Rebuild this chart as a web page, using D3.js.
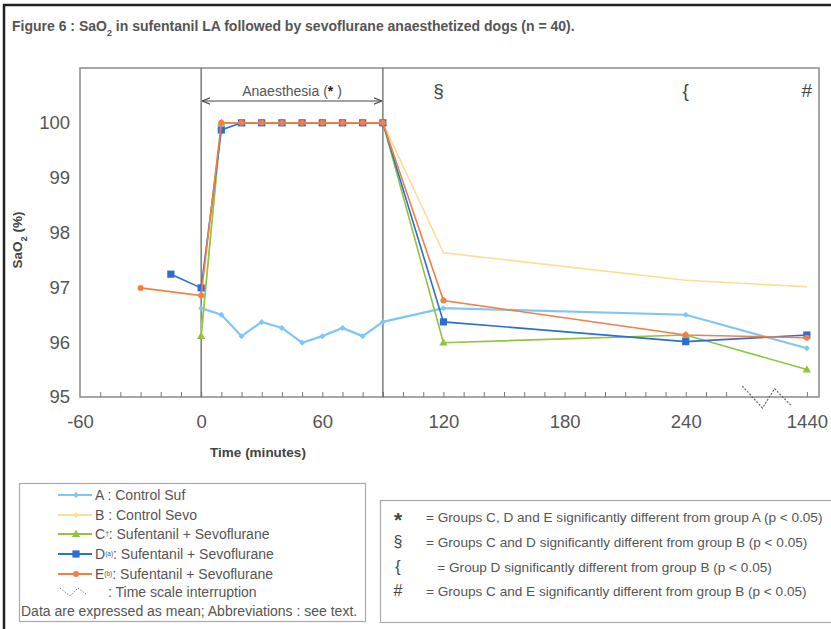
<!DOCTYPE html>
<meta charset="utf-8">
<html lang="en"></html>

<!-- load d3.js -->
<script src="https://d3js.org/d3.v7.min.js"></script>

<style>
    body { margin: 0; background: #fff; }
    text { font-family: "Liberation Sans", Arial, sans-serif; }
</style>

<div id="graph"></div>

<script>

    // ---- data ----
    const timesA = [0, 10, 20, 30, 40, 50, 60, 70, 80, 90, 120, 240, 1440];
    const valuesA = [96.62, 96.50, 96.11, 96.37, 96.26, 95.99, 96.11, 96.26, 96.11, 96.37, 96.62, 96.50, 95.89];

    const timesB = [0, 10, 20, 30, 40, 50, 60, 70, 80, 90, 120, 240, 1440];
    const valuesB = [96.15, 100, 100, 100, 100, 100, 100, 100, 100, 100, 97.63, 97.13, 97.01];

    const timesC = [0, 10, 20, 30, 40, 50, 60, 70, 80, 90, 120, 240, 1440];
    const valuesC = [96.11, 100, 100, 100, 100, 100, 100, 100, 100, 100, 95.99, 96.13, 95.50];

    const timesD = [-15, 0, 10, 20, 30, 40, 50, 60, 70, 80, 90, 120, 240, 1440];
    const valuesD = [97.24, 96.99, 99.87, 100, 100, 100, 100, 100, 100, 100, 100, 96.37, 96.01, 96.13];

    const timesE = [-30, 0, 10, 20, 30, 40, 50, 60, 70, 80, 90, 120, 240, 1440];
    const valuesE = [96.99, 96.85, 100, 100, 100, 100, 100, 100, 100, 100, 100, 96.76, 96.13, 96.08];

    const xTicks = [-60, 0, 60, 120, 180, 240, 1440];
    const yTicks = [95, 96, 97, 98, 99, 100];

    const seriesNames = ["A : Control Suf", "B : Control Sevo", "C", "D", "E"];
    const seriesColours = ["#7fc6f6", "#fddc94", "#8fc43c", "#2e6ed2", "#f47e45"];
    const seriesMarkers = ["diamond", "none", "triangle", "square", "circle"];

    const notes = [
        ["*", "= Groups C, D and E significantly different from group A (p < 0.05)"],
        ["§", "= Groups C and D significantly different from group B (p < 0.05)"],
        ["{", "   = Group D significantly different from group B (p < 0.05)"],
        ["#", "= Groups C and E significantly different from group B (p < 0.05)"]
    ];

    const series = [
        [timesA, valuesA], [timesB, valuesB], [timesC, valuesC], [timesD, valuesD], [timesE, valuesE]
    ].map(function(s, i) {
        return {
            colour: seriesColours[i],
            marker: seriesMarkers[i],
            points: s[0].map(function(t, j) { return {t: t, v: s[1][j]}; })
        };
    });

    // 1440 sits after the time scale interruption
    function pos(t) { return t > 240 ? 300 : t; }

    const W = 831, H = 629;
    const plot = {left: 80, right: 819, top: 68, bottom: 397};

    const svg = d3.select("#graph")
        .append("svg")
            .attr("width", W)
            .attr("height", H);

    // outer frame (top + left black rule)
    svg.append("path")
        .attr("d", "M4,629 V5 H831")
        .attr("fill", "none")
        .attr("stroke", "#222")
        .attr("stroke-width", 2.5);

    // title
    const title = svg.append("text")
        .attr("x", 12)
        .attr("y", 31)
        .attr("fill", "#555")
        .style("font-size", "14px")
        .style("font-weight", "bold");
    title.append("tspan").text("Figure 6 : SaO");
    title.append("tspan").attr("baseline-shift", "sub").style("font-size", "9px").text("2");
    title.append("tspan").text(" in sufentanil LA followed by sevoflurane anaesthetized dogs (n = 40).");

    // scales
    const x = d3.scaleLinear().domain([-60, 306]).range([plot.left, plot.right]);
    const y = d3.scaleLinear().domain([95, 101]).range([plot.bottom, plot.top]);

    // plot box
    svg.append("rect")
        .attr("x", plot.left)
        .attr("y", plot.top)
        .attr("width", plot.right - plot.left)
        .attr("height", plot.bottom - plot.top)
        .attr("fill", "#fff")
        .attr("stroke", "#8a8a8a")
        .attr("stroke-width", 1.5);

    // minor ticks along the bottom, pointing inward
    const minor = d3.range(-50, 301, 10).filter(function(d) { return d < 270 || d > 290; });
    svg.append("g")
        .attr("transform", "translate(0," + plot.bottom + ")")
        .call(d3.axisBottom(x).tickValues(minor).tickSize(-5).tickFormat(""))
        .call(function(g) { g.select(".domain").remove(); })
        .selectAll("line").attr("stroke", "#777");

    // x tick labels
    svg.append("g")
        .attr("transform", "translate(0," + plot.bottom + ")")
        .call(d3.axisBottom(x).tickValues(xTicks.map(pos)).tickSize(0).tickPadding(18)
            .tickFormat(function(d) { return d === 300 ? "1440" : d; }))
        .call(function(g) { g.select(".domain").remove(); })
        .selectAll("text")
            .attr("fill", "#555")
            .style("font-size", "18.5px");

    // y tick labels
    svg.append("g")
        .attr("transform", "translate(" + plot.left + ",0)")
        .call(d3.axisLeft(y).tickValues(yTicks).tickSize(0).tickPadding(10).tickFormat(d3.format("d")))
        .call(function(g) { g.select(".domain").remove(); })
        .selectAll("text")
            .attr("fill", "#555")
            .style("font-size", "18.5px");

    // axis titles
    svg.append("text")
        .attr("x", 258)
        .attr("y", 457)
        .attr("text-anchor", "middle")
        .attr("fill", "#444")
        .style("font-size", "13.5px")
        .style("font-weight", "bold")
        .text("Time (minutes)");

    const yl = svg.append("text")
        .attr("transform", "translate(22,240) rotate(-90)")
        .attr("text-anchor", "middle")
        .attr("fill", "#444")
        .style("font-size", "13.5px")
        .style("font-weight", "bold");
    yl.append("tspan").text("SaO");
    yl.append("tspan").attr("baseline-shift", "sub").style("font-size", "9px").text("2");
    yl.append("tspan").text(" (%)");

    // anaesthesia period markers
    [0, 90].forEach(function(t) {
        svg.append("line")
            .attr("x1", x(t)).attr("x2", x(t))
            .attr("y1", plot.top).attr("y2", plot.bottom)
            .attr("stroke", "#666")
            .attr("stroke-width", 1.3);
    });

    const defs = svg.append("defs");
    defs.append("marker")
        .attr("id", "arr")
        .attr("viewBox", "0 0 10 10")
        .attr("refX", 10).attr("refY", 5)
        .attr("markerWidth", 8).attr("markerHeight", 8)
        .attr("orient", "auto-start-reverse")
        .append("path")
            .attr("d", "M0,1 L10,5 L0,9")
            .attr("fill", "none")
            .attr("stroke", "#444")
            .attr("stroke-width", 1.5);

    svg.append("line")
        .attr("x1", x(0) + 1).attr("x2", x(90) - 1)
        .attr("y1", 101).attr("y2", 101)
        .attr("stroke", "#444")
        .attr("stroke-width", 1)
        .attr("marker-start", "url(#arr)")
        .attr("marker-end", "url(#arr)");

    const anaes = svg.append("text")
        .attr("x", (x(0) + x(90)) / 2)
        .attr("y", 96)
        .attr("text-anchor", "middle")
        .attr("fill", "#555")
        .style("font-size", "14px");
    anaes.append("tspan").text("Anaesthesia (");
    anaes.append("tspan").style("font-weight", "bold").style("fill", "#222").text("*");
    anaes.append("tspan").text(" )");

    // significance symbols above the points
    [[120, "§"], [240, "{"], [1440, "#"]].forEach(function(s) {
        svg.append("text")
            .attr("x", x(pos(s[0])) + (s[0] === 120 ? -5 : 0))
            .attr("y", 97)
            .attr("text-anchor", "middle")
            .attr("fill", "#444")
            .style("font-size", "19px")
            .text(s[1]);
    });

    // time scale interruption zigzag
    const zig = [[268, 95.2], [278, 94.8], [284, 95.15], [292, 94.85]];
    svg.append("path")
        .attr("d", d3.line().x(function(d) { return x(d[0]); }).y(function(d) { return y(d[1]); })(zig))
        .attr("fill", "none")
        .attr("stroke", "#666")
        .attr("stroke-width", 1.2)
        .attr("stroke-dasharray", "2,1.5");

    // marker drawing helper
    function drawMarker(g, type, cx, cy, colour) {
        if (type === "square") {
            g.append("rect").attr("x", cx - 3.6).attr("y", cy - 3.6)
                .attr("width", 7.2).attr("height", 7.2).attr("fill", colour);
        } else if (type === "circle") {
            g.append("circle").attr("cx", cx).attr("cy", cy).attr("r", 3).attr("fill", colour);
        } else if (type === "triangle") {
            g.append("path").attr("d", d3.symbol(d3.symbolTriangle, 30)())
                .attr("transform", "translate(" + cx + "," + (cy + 0.5) + ")").attr("fill", colour);
        } else if (type === "diamond") {
            g.append("path").attr("d", "M0,-3L3,0L0,3L-3,0Z")
                .attr("transform", "translate(" + cx + "," + cy + ")").attr("fill", colour);
        }
    }

    // series lines and markers
    const line = d3.line()
        .x(function(d) { return x(pos(d.t)); })
        .y(function(d) { return y(d.v); });

    series.forEach(function(s) {
        const g = svg.append("g");
        g.append("path")
            .datum(s.points)
            .attr("d", line)
            .attr("fill", "none")
            .attr("stroke", s.colour)
            .attr("stroke-width", s.marker === "diamond" ? 2.2 : 1.6);
        s.points.forEach(function(p) {
            drawMarker(g, s.marker, x(pos(p.t)), y(p.v), s.colour);
        });
    });

    // ---- legend box ----
    const leg = svg.append("g");
    leg.append("rect")
        .attr("x", 19.5).attr("y", 483.5)
        .attr("width", 346).attr("height", 138)
        .attr("fill", "#fff")
        .attr("stroke", "#aaa")
        .attr("stroke-width", 1.2);

    const legRows = [495, 515, 534, 554, 574];
    const supers = ["", "", "†", "(a)", "(b)"];
    series.forEach(function(s, i) {
        const yy = legRows[i];
        leg.append("line")
            .attr("x1", 58).attr("x2", 92)
            .attr("y1", yy).attr("y2", yy)
            .attr("stroke", s.colour)
            .attr("stroke-width", 2);
        drawMarker(leg, s.marker === "none" ? "diamond" : s.marker, 76, yy, s.colour);
        const t = leg.append("text")
            .attr("x", 95)
            .attr("y", yy + 5)
            .attr("fill", "#555")
            .style("font-size", "14px");
        if (i < 2) {
            t.text(seriesNames[i]);
        } else {
            t.append("tspan").text(seriesNames[i]);
            t.append("tspan").attr("baseline-shift", "super").style("font-size", "6.5px").text(supers[i]);
            t.append("tspan").text(": Sufentanil + Sevoflurane");
        }
    });

    leg.append("path")
        .attr("d", "M60,588 L70,596 L78,588 L86,594")
        .attr("fill", "none")
        .attr("stroke", "#777")
        .attr("stroke-width", 1)
        .attr("stroke-dasharray", "1.5,1.5");
    leg.append("text")
        .attr("x", 108).attr("y", 597)
        .attr("fill", "#555")
        .style("font-size", "14px")
        .text(": Time scale interruption");
    leg.append("text")
        .attr("x", 21).attr("y", 616)
        .attr("fill", "#555")
        .style("font-size", "14px")
        .text("Data are expressed as mean; Abbreviations : see text.");

    // ---- significance notes box ----
    const nb = svg.append("g");
    nb.append("rect")
        .attr("x", 380.5).attr("y", 500.5)
        .attr("width", 460).attr("height", 122)
        .attr("fill", "#fff")
        .attr("stroke", "#aaa")
        .attr("stroke-width", 1.2);

    const noteRows = [522, 547, 572, 596];
    notes.forEach(function(n, i) {
        nb.append("text")
            .attr("x", 398)
            .attr("y", noteRows[i] + (n[0] === "*" ? 5 : 0))
            .attr("text-anchor", "middle")
            .attr("fill", "#444")
            .style("font-size", n[0] === "*" ? "21px" : "16px")
            .style("font-weight", n[0] === "*" ? "bold" : "normal")
            .text(n[0]);
        nb.append("text")
            .attr("x", 426)
            .attr("y", noteRows[i])
            .attr("fill", "#555")
            .style("white-space", "pre")
            .style("font-size", "13.6px")
            .text(n[1]);
    });

</script>
